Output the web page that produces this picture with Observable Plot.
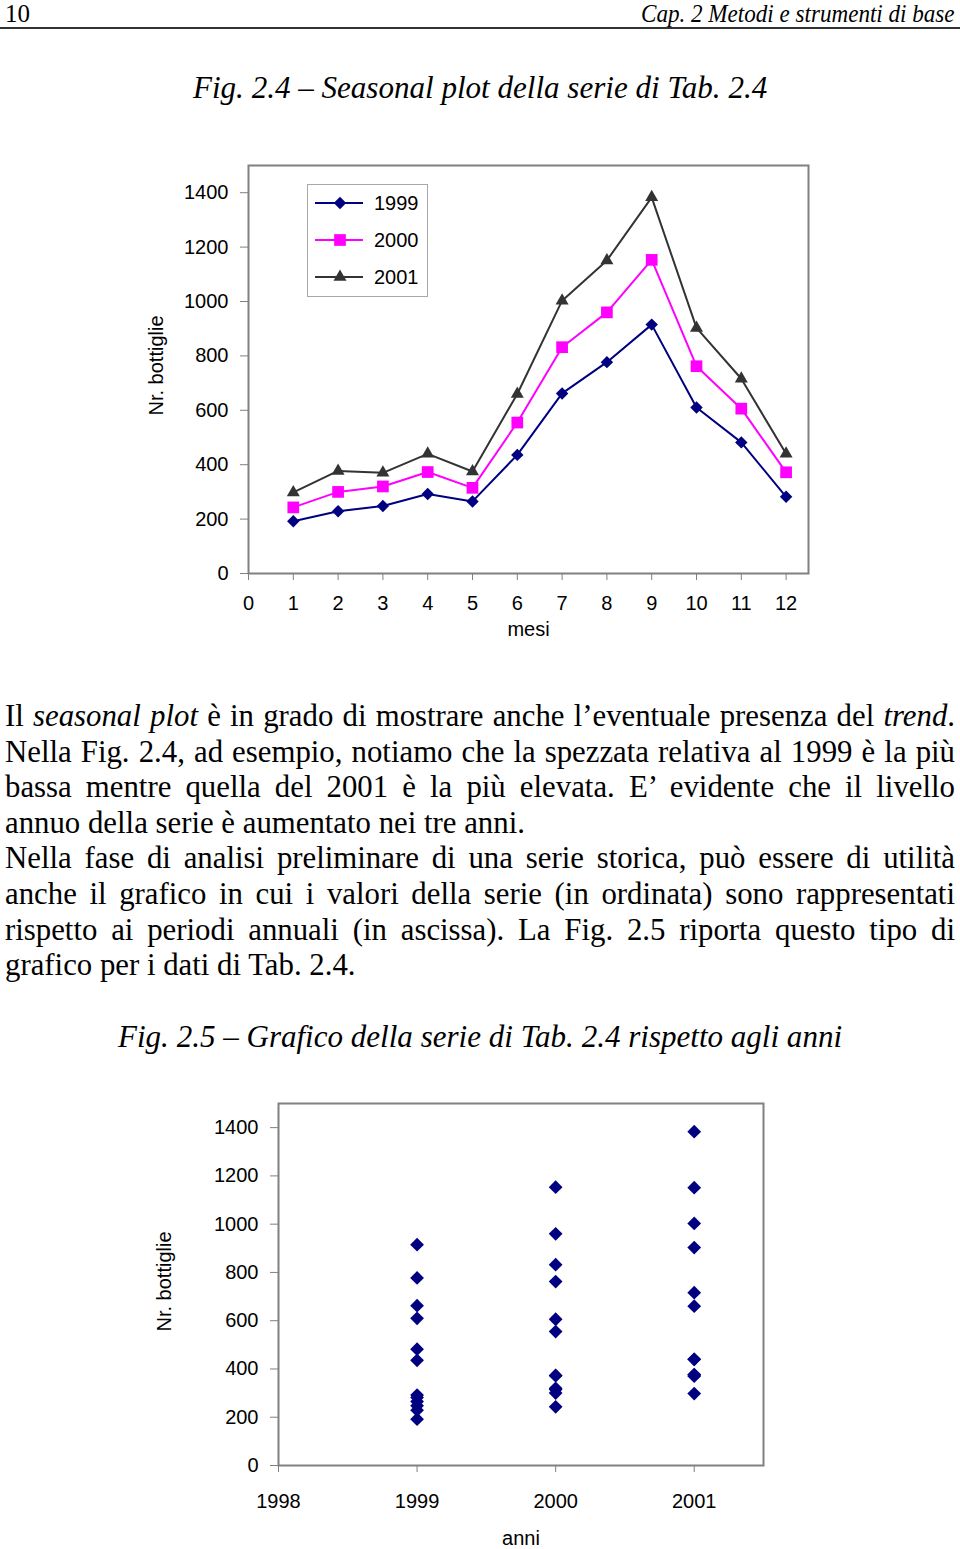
<!DOCTYPE html>
<html><head><meta charset="utf-8">
<script src="https://cdn.jsdelivr.net/npm/d3@7"></script>
<script src="https://cdn.jsdelivr.net/npm/@observablehq/plot@0.6"></script>
<style>
html,body{margin:0;padding:0;background:#fff;}
#page{position:relative;width:960px;height:1549px;overflow:hidden;background:#fff;}
.t{position:absolute;white-space:nowrap;color:#000;}
.serif{font-family:"Liberation Serif","Times New Roman",serif;}
.sans{font-family:"Liberation Sans",Arial,sans-serif;}
.chart{position:absolute;left:0;}
</style></head><body><div id="page"></div>
<script>
// ---- data ----
const months = [1, 2, 3, 4, 5, 6, 7, 8, 9, 10, 11, 12];
const years = [1999, 2000, 2001];
const y1999 = [192, 229, 248, 292, 265, 436, 662, 777, 915, 610, 482, 282];
const y2000 = [243, 300, 320, 373, 315, 555, 832, 960, 1153, 762, 606, 372];
const y2001 = [298, 377, 370, 440, 375, 660, 1003, 1151, 1383, 903, 716, 440];
const yTicks = [0, 200, 400, 600, 800, 1000, 1200, 1400];
const xTicks1 = [0, 1, 2, 3, 4, 5, 6, 7, 8, 9, 10, 11, 12];
const xTicks2 = [1998, 1999, 2000, 2001];
const seriesColors = ["#000080", "#FF00FF", "#333333"];
const seriesSymbols = ["diamond2", "square", "triangle2"];
const seriesR = [5.6, 6.6, 6.2];

const series = [y1999, y2000, y2001];
const rows = [];
years.forEach((yr, i) => series[i].forEach((v, j) => rows.push({year: String(yr), yearNum: yr, month: months[j], value: v})));

const page = document.getElementById("page");

function place(txt, {x, baseline, size, fam = "serif", italic = false, anchor = "start", width = null, html = false, color = null}) {
  const el = document.createElement("div");
  el.className = "t " + fam;
  el.style.fontSize = size + "px";
  el.style.lineHeight = size + "px";
  if (italic) el.style.fontStyle = "italic";
  if (color) el.style.color = color;
  if (html) el.innerHTML = txt; else el.textContent = txt;
  const asc = fam === "serif" ? 0.891 : 0.905, desc = fam === "serif" ? 0.216 : 0.212;
  el.style.top = (baseline - ((size - (asc + desc) * size) / 2 + asc * size)) + "px";
  page.appendChild(el);
  const w = el.offsetWidth;
  const sx = width ? width / w : 1;
  const dw = w * sx;
  const left = anchor === "start" ? x : anchor === "end" ? x - dw : x - dw / 2;
  el.style.left = left + "px";
  el.style.transformOrigin = "0 0";
  if (sx !== 1) el.style.transform = `scaleX(${sx})`;
  return el;
}

// header
place("10", {x: 5, baseline: 22, size: 25});
place("Cap. 2 Metodi e strumenti di base", {x: 955, baseline: 22, size: 25, italic: true, anchor: "end", width: 314});
const rule = document.createElement("div");
rule.style.cssText = "position:absolute;left:0;top:27px;width:960px;height:2px;background:#333;";
page.appendChild(rule);

// titles
place("Fig. 2.4 – Seasonal plot della serie di Tab. 2.4", {x: 480, baseline: 98, size: 31, italic: true, anchor: "middle", width: 574});
place("Fig. 2.5 – Grafico della serie di Tab. 2.4 rispetto agli anni", {x: 480, baseline: 1047, size: 31, italic: true, anchor: "middle", width: 724});

// body text
const bodyLines = [
  ["Il <i>seasonal plot</i> è in grado di mostrare anche l’eventuale presenza del <i>trend</i>.", true],
  ["Nella Fig. 2.4, ad esempio, notiamo che la spezzata relativa al 1999 è la più", true],
  ["bassa mentre quella del 2001 è la più elevata. E’ evidente che il livello", true],
  ["annuo della serie è aumentato nei tre anni.", false],
  ["Nella fase di analisi preliminare di una serie storica, può essere di utilità", true],
  ["anche il grafico in cui i valori della serie (in ordinata) sono rappresentati", true],
  ["rispetto ai periodi annuali (in ascissa). La Fig. 2.5 riporta questo tipo di", true],
  ["grafico per i dati di Tab. 2.4.", false]
];
const bodySize = 30.8, bodyLeft = 5, bodyWidth = 950;
bodyLines.forEach(([txt, just], i) => {
  const el = place(txt, {x: bodyLeft, baseline: 727 + i * 35.57, size: bodySize, html: true});
  if (just) {
    const w = el.offsetWidth;
    if (w <= bodyWidth) {
      el.style.width = bodyWidth + "px";
      el.style.whiteSpace = "normal";
      el.style.textAlign = "justify";
      el.style.textAlignLast = "justify";
    } else {
      el.style.transform = `scaleX(${bodyWidth / w})`;
    }
  }
});

// ---- chart 1 ----
const plotStyle = {fontFamily: '"Liberation Sans", Arial, sans-serif', fontSize: "20px", color: "#000", background: "transparent", overflow: "visible"};
const gray = "#808080";

const chart1 = Plot.plot({
  width: 960, height: 520,
  marginTop: 25, marginBottom: 87, marginLeft: 248, marginRight: 152,
  style: plotStyle,
  x: {domain: [0, 12.5]},
  y: {domain: [0, 1500]},
  color: {domain: years.map(String), range: seriesColors},
  marks: [
    Plot.frame({stroke: gray, strokeWidth: 2}),
    Plot.axisY({ticks: yTicks, tickSize: 8, tickPadding: 12, stroke: gray, label: null, tickFormat: d => String(d)}),
    Plot.axisX({ticks: xTicks1, tickSize: 7, tickPadding: 15, stroke: gray, label: null, tickFormat: d => String(d)}),
    Plot.line(rows, {x: "month", y: "value", z: "year", stroke: "year", strokeWidth: 2}),
    ...years.map((yr, i) => Plot.dot(rows.filter(d => d.yearNum === yr), {x: "month", y: "value", symbol: seriesSymbols[i], r: seriesR[i], fill: seriesColors[i]})),
    Plot.text(["Nr. bottiglie"], {frameAnchor: "left", textAnchor: "middle", lineAnchor: "middle", dx: -92, dy: -4, rotate: -90, fontSize: 20}),
    Plot.text(["mesi"], {frameAnchor: "bottom", textAnchor: "middle", lineAnchor: "middle", dy: 56, fontSize: 20})
  ]
});
chart1.classList.add("chart");
chart1.style.top = "140px";
page.appendChild(chart1);

// legend for chart 1
const leg = document.createElement("div");
leg.style.cssText = "position:absolute;left:307px;top:184px;width:119px;height:111px;border:1px solid #a8a8a8;background:#fff;";
page.appendChild(leg);
const symMap = {diamond2: d3.symbolDiamond2, square: d3.symbolSquare, triangle2: d3.symbolTriangle2};
years.forEach((yr, i) => {
  const cy = 203 + i * 37;
  const svg = d3.select(page).append("svg")
    .style("position", "absolute").style("left", "310px").style("top", (cy - 10) + "px")
    .attr("width", 60).attr("height", 20);
  svg.append("line").attr("x1", 5).attr("x2", 53).attr("y1", 10).attr("y2", 10)
    .attr("stroke", seriesColors[i]).attr("stroke-width", 2);
  svg.append("path").attr("transform", "translate(30,10)")
    .attr("d", d3.symbol(symMap[seriesSymbols[i]], Math.PI * seriesR[i] * seriesR[i])())
    .attr("fill", seriesColors[i]);
  place(String(yr), {x: 374, baseline: cy + 7.2, size: 20, fam: "sans"});
});

// ---- chart 2 ----
const chart2 = Plot.plot({
  width: 960, height: 469,
  marginTop: 23, marginBottom: 84, marginLeft: 278, marginRight: 197,
  style: plotStyle,
  x: {domain: [1998, 2001.5]},
  y: {domain: [0, 1500]},
  marks: [
    Plot.frame({stroke: gray, strokeWidth: 2}),
    Plot.axisY({ticks: yTicks, tickSize: 8, tickPadding: 12, stroke: gray, label: null, tickFormat: d => String(d)}),
    Plot.axisX({ticks: xTicks2, tickSize: 7, tickPadding: 21, stroke: gray, label: null, tickFormat: d => String(d)}),
    Plot.dot(rows, {x: "yearNum", y: "value", symbol: "diamond2", r: 6.2, fill: "#000080"}),
    Plot.text(["Nr. bottiglie"], {frameAnchor: "left", textAnchor: "middle", lineAnchor: "middle", dx: -114, dy: -3, rotate: -90, fontSize: 20}),
    Plot.text(["anni"], {frameAnchor: "bottom", textAnchor: "middle", lineAnchor: "middle", dy: 73, fontSize: 20})
  ]
});
chart2.classList.add("chart");
chart2.style.top = "1080px";
page.appendChild(chart2);
</script>
</body></html>
